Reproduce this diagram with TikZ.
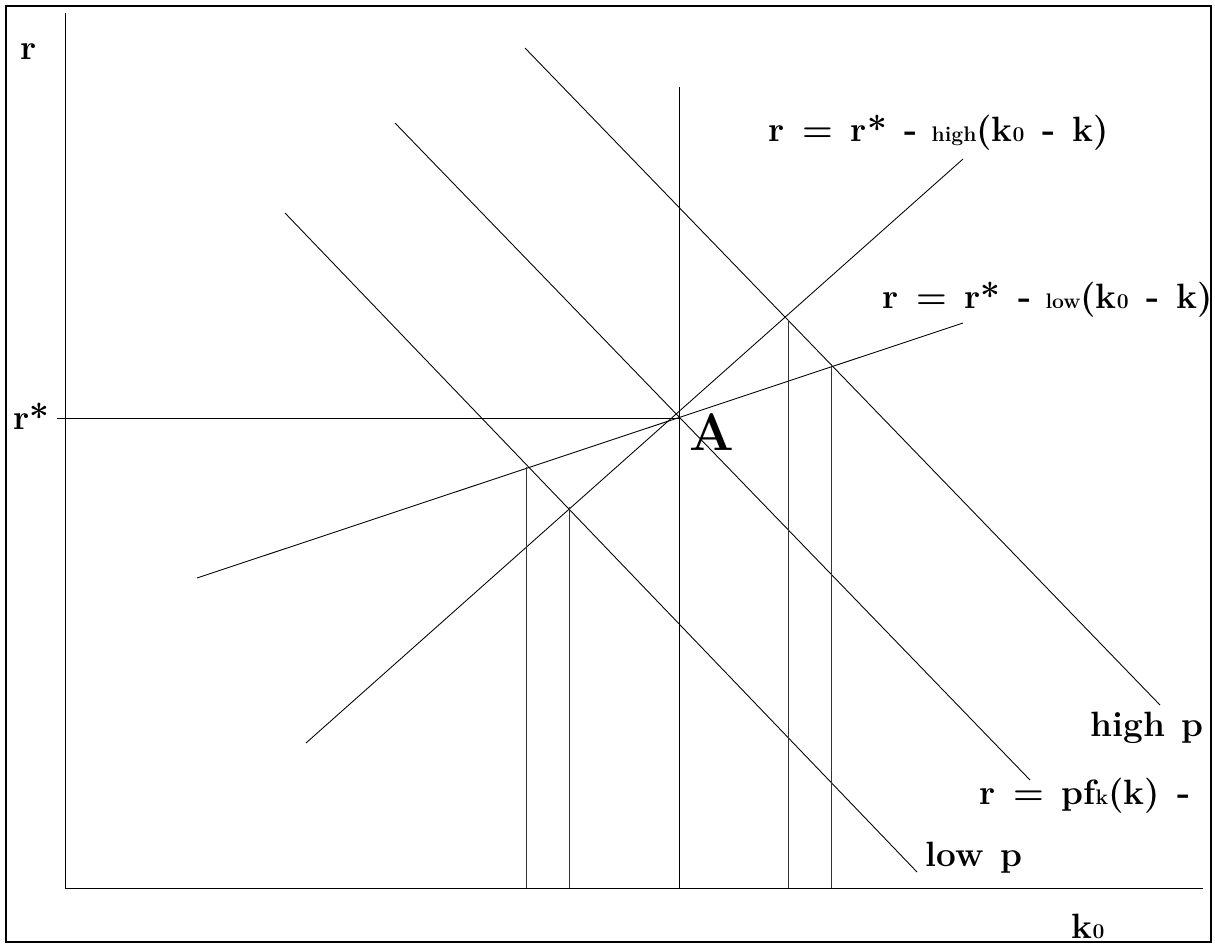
\documentclass[tikz,border=0pt]{standalone}
\newcommand\lsub[1]{{\fontsize{12}{12}\selectfont #1}}
\tikzset{
  frame/.style={line width=1.1pt},
  curve/.style={line width=0.5pt},
  drop/.style={line width=0.5pt, black!80},
  lab/.style={inner sep=0pt, font=\fontsize{20}{22}\selectfont\bfseries},
  biglab/.style={inner sep=0pt, font=\fontsize{30}{32}\selectfont\bfseries}
}
\begin{document}
\begin{tikzpicture}[x=0.02cm,y=-0.02cm]
\useasboundingbox (0,0) rectangle (1215,947);
\draw[frame] (6,6) rectangle (1211,942);
% axes
\coordinate (O) at (65,888);
\coordinate (Ytop) at (65,13);
\coordinate (Xend) at (1203,888);
\draw[curve] (Ytop) -- (O) -- (Xend);
% r* line and vertical through A
\coordinate (rs) at (57,418);
\coordinate (A) at (679,418);
\coordinate (Atop) at (679,87);
\coordinate (Abot) at (679,888);
\draw[curve] (rs) -- (A);
\draw[curve] (Atop) -- (Abot);
% demand lines
\coordinate (hp1) at (525,48);   \coordinate (hp2) at (1160,705);
\coordinate (mp1) at (395,123);  \coordinate (mp2) at (1030,780);
\coordinate (lp1) at (285,213);  \coordinate (lp2) at (917,872);
\draw[curve] (hp1) -- (hp2);
\draw[curve] (mp1) -- (mp2);
\draw[curve] (lp1) -- (lp2);
% supply lines
\coordinate (sh1) at (306,743);  \coordinate (sh2) at (963,159);
\coordinate (sl1) at (197,578);  \coordinate (sl2) at (963,323);
\draw[curve] (sh1) -- (sh2);
\draw[curve] (sl1) -- (sl2);
% vertical drop lines
\coordinate (v1t) at (526,467); \coordinate (v1b) at (526,888);
\coordinate (v2t) at (569,507); \coordinate (v2b) at (569,888);
\coordinate (v3t) at (788,320); \coordinate (v3b) at (788,888);
\coordinate (v4t) at (831,364); \coordinate (v4b) at (831,888);
\draw[drop] (v1t) -- (v1b);
\draw[drop] (v2t) -- (v2b);
\draw[drop] (v3t) -- (v3b);
\draw[drop] (v4t) -- (v4b);
% labels
\node[lab] (lr) at (29,52) {r};
\node[lab] (lrs) at (31,416) {r*};
\node[biglab] (lA) at (712,432) {A};
\node[lab] (lhigh) at (939,133) {r\hspace{0.5em}=\hspace{0.5em}r*\hspace{0.5em}-\hspace{0.4em}\lsub{high}(k\lsub{0}\hspace{0.5em}-\hspace{0.5em}k)};
\node[lab] (llow) at (1048,300) {r\hspace{0.5em}=\hspace{0.5em}r*\hspace{0.5em}-\hspace{0.4em}\lsub{low}(k\lsub{0}\hspace{0.5em}-\hspace{0.5em}k)};
\node[lab] (lhp) at (1147,728) {high\hspace{0.45em}p};
\node[lab] (lpf) at (1085,796) {r\hspace{0.5em}=\hspace{0.5em}pf\lsub{k}(k)\hspace{0.5em}-};
\node[lab] (llp) at (974,858) {low\hspace{0.45em}p};
\node[lab] (lk) at (1088,926) {k\lsub{0}};
\end{tikzpicture}
\end{document}
